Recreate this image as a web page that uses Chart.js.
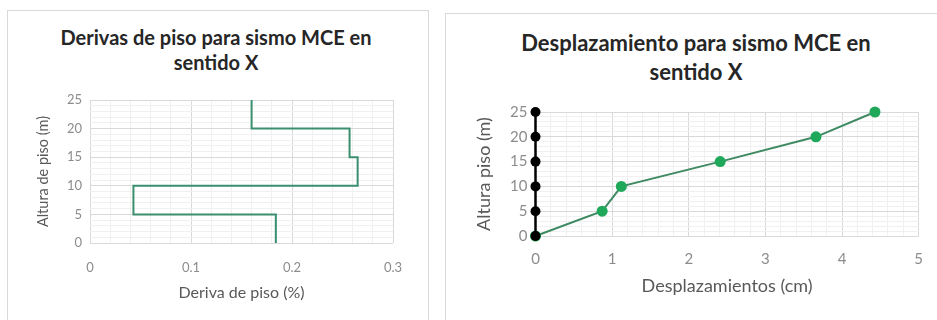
<!DOCTYPE html>
<html>
<head>
<meta charset="utf-8">
<script src="https://cdn.jsdelivr.net/npm/chart.js@4.4.1/dist/chart.umd.min.js"></script>
<style>
  body { margin: 0; background: #fff; width: 937px; height: 320px; overflow: hidden; position: relative; font-family: Lato, "Open Sans", sans-serif; }
  .box { position: absolute; border: 1px solid #d9d9d9; background: #fff; }
  .title { position: absolute; text-align: center; font-weight: bold; color: #262626; white-space: nowrap; }
  canvas { position: absolute; }
</style>
</head>
<body>
<div class="box" style="left:7px; top:10px; width:420px; height:320px;"></div>
<div class="box" style="left:445px; top:13px; width:500px; height:320px;"></div>

<div class="title" style="left:16px; width:400px; top:25px; font-size:20px; line-height:25px;">Derivas de piso para sismo MCE en<br>sentido X</div>
<div class="title" style="left:466px; width:460px; top:28px; font-size:22px; line-height:29px;">Desplazamiento para sismo MCE en<br>sentido X</div>

<canvas id="derivaChart" width="420" height="307" style="left:8px; top:11px;"></canvas>
<canvas id="desplChart" width="491" height="306" style="left:446px; top:14px;"></canvas>

<script>
// ── data
var alturas = [25, 20, 15, 10, 5, 0];              // floor levels (m), top to bottom
var derivas = [0.160, 0.257, 0.265, 0.043, 0.184]; // story drift (%) per story, top to bottom

var desplAltura = [0, 5, 10, 15, 20, 25];          // m
var desplazamientos = [0, 0.87, 1.12, 2.41, 3.66, 4.43]; // cm
var baseX = [0, 0, 0, 0, 0, 0];                    // black reference column

var GRID_MAJOR = '#d9d9d9';
var GRID_MINOR = '#f0f0f0';
var TICK_COLOR = '#8c8c8c';
var AXIS_TITLE = '#595959';

function isMult(v, step) {
    var r = v / step;
    return Math.abs(r - Math.round(r)) < 1e-6;
}

// step profile: vertical segment per story at its drift value
var stepPts = [];
derivas.forEach(function (d, i) {
    stepPts.push({ x: d, y: alturas[i] });
    stepPts.push({ x: d, y: alturas[i + 1] });
});

function pair(xs, ys) {
    return xs.map(function (x, i) { return { x: x, y: ys[i] }; });
}

function axis(cfg) {
    return {
        type: 'linear',
        min: cfg.min, max: cfg.max,
        border: { display: false },
        grid: {
            drawTicks: false,
            color: function (c) { return isMult(c.tick.value, cfg.major) ? GRID_MAJOR : GRID_MINOR; }
        },
        ticks: {
            stepSize: cfg.minor,
            autoSkip: false,
            maxRotation: 0,
            minRotation: 0,
            padding: cfg.pad,
            color: TICK_COLOR,
            font: { family: 'Lato', size: cfg.tickSize },
            callback: function (v) {
                return isMult(v, cfg.major) ? String(+v.toFixed(2)) : '';
            }
        },
        title: {
            display: true,
            text: cfg.title,
            color: AXIS_TITLE,
            font: { family: 'Lato', size: cfg.titleSize }
        },
        afterFit: cfg.fit
    };
}

Chart.defaults.font.family = 'Lato';

new Chart(document.getElementById('derivaChart'), {
    type: 'scatter',
    data: {
        datasets: [{
            data: stepPts,
            showLine: true,
            borderColor: '#3a8f6f',
            borderWidth: 2,
            pointRadius: 0,
            clip: false
        }]
    },
    options: {
        responsive: false,
        animation: false,
        layout: { padding: { left: 23, right: 35, top: 89, bottom: 12 } },
        plugins: { legend: { display: false }, tooltip: { enabled: false } },
        scales: {
            x: axis({ min: 0, max: 0.3, major: 0.1, minor: 0.02, pad: 17, tickSize: 13,
                      title: 'Deriva de piso (%)', titleSize: 16,
                      fit: function (s) { s.height = 63; } }),
            y: axis({ min: 0, max: 25, major: 5, minor: 1, pad: 8, tickSize: 13,
                      title: 'Altura de piso (m)', titleSize: 14.5,
                      fit: function (s) { s.width = 59; } })
        }
    }
});

new Chart(document.getElementById('desplChart'), {
    type: 'scatter',
    data: {
        datasets: [{
            data: pair(baseX, desplAltura),
            showLine: true,
            borderColor: '#000000',
            backgroundColor: '#000000',
            borderWidth: 2.5,
            pointRadius: 5,
            pointBorderWidth: 0,
            clip: false,
            order: 0
        }, {
            data: pair(desplazamientos, desplAltura),
            showLine: true,
            borderColor: '#3f8a62',
            backgroundColor: '#1fa85a',
            borderWidth: 2,
            pointRadius: 5.5,
            pointBorderWidth: 0,
            clip: false,
            order: 1
        }]
    },
    options: {
        responsive: false,
        animation: false,
        layout: { padding: { left: 23, right: 17, top: 98, bottom: 19 } },
        plugins: { legend: { display: false }, tooltip: { enabled: false } },
        scales: {
            x: axis({ min: 0, max: 5, major: 1, minor: 0.2, pad: 14, tickSize: 15,
                      title: 'Desplazamientos (cm)', titleSize: 18,
                      fit: function (s) { s.height = 65; } }),
            y: axis({ min: 0, max: 25, major: 5, minor: 1, pad: 8, tickSize: 15,
                      title: 'Altura piso (m)', titleSize: 18,
                      fit: function (s) { s.width = 66.5; } })
        }
    }
});
</script>
</body>
</html>
